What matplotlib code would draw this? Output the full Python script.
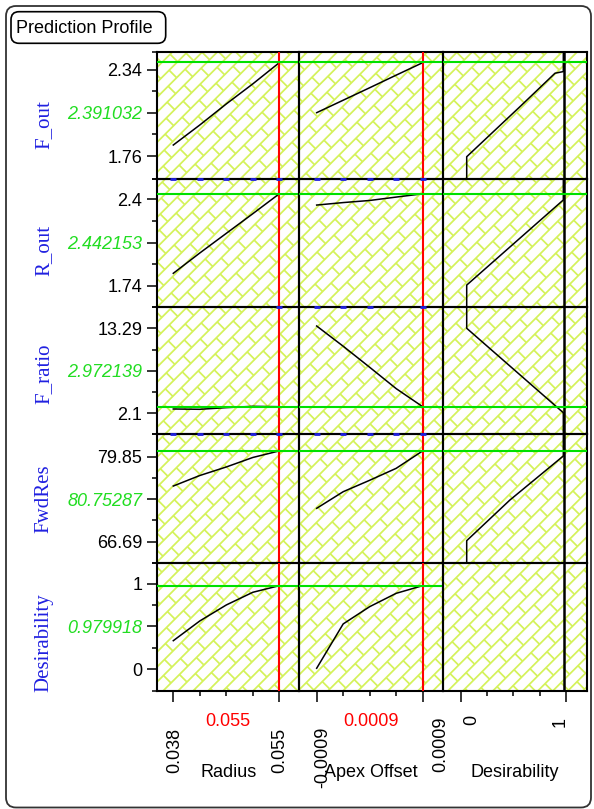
import matplotlib
matplotlib.use('Agg')
import matplotlib.pyplot as plt
import matplotlib.transforms as mtransforms
import numpy as np
from matplotlib.collections import LineCollection
from matplotlib.patches import FancyBboxPatch

# factor settings (x axes) and responses (rows)
factors = ['Radius', 'Apex Offset', 'Desirability']
factor_ticks = [[0.038, 0.04225, 0.0465, 0.05075, 0.055],
                [-0.0009, -0.00045, 0.0, 0.00045, 0.0009],
                [0.0, 0.25, 0.5, 0.75, 1.0]]
factor_now = [0.055, 0.0009, 0.979918]
factor_now_txt = ['0.055', '0.0009', '']

responses = ['F_out', 'R_out', 'F_ratio', 'FwdRes', 'Desirability']
resp_now = [2.391032, 2.442153, 2.972139, 80.75287, 0.979918]
resp_now_txt = ['2.391032', '2.442153', '2.972139', '80.75287', '0.979918']
resp_tick_lo = [1.76, 1.74, 2.1, 66.69, 0]
resp_tick_hi = [2.34, 2.4, 13.29, 79.85, 1]
resp_tick_lo_txt = ['1.76', '1.74', '2.1', '66.69', '0']
resp_tick_hi_txt = ['2.34', '2.4', '13.29', '79.85', '1']

# prediction traces, evaluated at the factor tick points
radius_pts = [0.038, 0.04225, 0.0465, 0.05075, 0.055]
apex_pts = [-0.0009, -0.00045, 0.0, 0.00045, 0.0009]
trace_radius = [[1.834, 1.969, 2.111, 2.246, 2.389],
                [1.835, 1.99, 2.14, 2.29, 2.442],
                [2.67, 2.63, 2.85, 3.02, 2.972],
                [75.31, 76.94, 78.26, 79.73, 80.75],
                [0.333, 0.565, 0.753, 0.902, 0.98]]
trace_apex = [[2.052, 2.136, 2.22, 2.305, 2.389],
              [2.356, 2.375, 2.391, 2.417, 2.442],
              [13.59, 10.93, 8.16, 5.35, 2.972],
              [71.86, 74.43, 76.20, 78.05, 80.75],
              [0.009, 0.53, 0.733, 0.89, 0.98]]

# desirability functions (x = desirability, y = response)
desir_d = [[0.057, 0.057, 0.563, 0.896, 0.975, 0.975],
           [0.975, 0.975, 0.057, 0.057],
           [0.057, 0.057, 0.975, 0.975],
           [0.975, 0.975, 0.468, 0.057, 0.057]]
desir_y = [[1.5, 1.755, 2.0925, 2.318, 2.329, 2.6],
           [2.6, 2.395, 1.745, 1.5],
           [17.0, 13.29, 2.18, -1.0],
           [85.0, 79.96, 73.15, 66.85, 60.0]]

# axis ranges
xlims = [(0.035386, 0.05821), (-0.001195, 0.00124), (-0.171, 1.197)]
ylims = [(1.605, 2.463), (1.58, 2.555), (-0.66, 16.13), (63.44, 83.32), (-0.255, 1.25)]

W, H = 594, 809
col_edges = [157, 299.3, 442.7, 586.7]
row_edges = [51.7, 179, 306.7, 434.3, 562.7, 690.7]
ylab_y = [124.5, 250.8, 374, 498.3, 643]

GREEN_LINE = '#00e000'
GREEN_TXT = '#22dd22'
HATCH = '#d4f25a'
BLUE = '#2020e0'
SANS = 'Liberation Sans'
SERIF = 'Liberation Serif'
fs = 13

fig = plt.figure(figsize=(W / 100, H / 100), dpi=100)


def px_rect(x0, y0, x1, y1):
    return [x0 / W, 1 - y1 / H, (x1 - x0) / W, (y1 - y0) / H]


# brick hatch behind the grid
bg = fig.add_axes(px_rect(col_edges[0], row_edges[0], col_edges[-1], row_edges[-1]), zorder=0)
bg.set_xlim(col_edges[0], col_edges[-1])
bg.set_ylim(H - row_edges[-1], H - row_edges[0])
bg.axis('off')
s, L = 10.6, 24.0
r2 = np.sqrt(2)
pmin, pmax = 150, 1000
segs = []
for k in range(-40, 45):
    q0, q1 = k * s, (k + 1) * s
    segs.append([((pmin - q0) / r2, (pmin + q0) / r2), ((pmax - q0) / r2, (pmax + q0) / r2)])
    off = (k % 2) * L / 2
    for p in np.arange(pmin + off, pmax, L):
        segs.append([((p - q0) / r2, (p + q0) / r2), ((p - q1) / r2, (p + q1) / r2)])
bg.add_collection(LineCollection(segs, colors=HATCH, linewidths=1.25))

axes = {}
for r in range(5):
    for c in range(3):
        ax = fig.add_axes(px_rect(col_edges[c], row_edges[r], col_edges[c + 1], row_edges[r + 1]), zorder=2)
        ax.set_facecolor('none')
        ax.set_xlim(*xlims[c])
        ax.set_ylim(*ylims[r])
        for sp in ax.spines.values():
            sp.set_linewidth(1.5)
            sp.set_color('k')
        ax.tick_params(which='both', left=False, bottom=False, labelleft=False, labelbottom=False)
        axes[r, c] = ax

        if c == 0:
            ax.plot(radius_pts, trace_radius[r], color='k', lw=1.1, zorder=3)
        elif c == 1:
            ax.plot(apex_pts, trace_apex[r], color='k', lw=1.1, zorder=3)
        elif r < 4:
            ax.plot(desir_d[r], desir_y[r], color='k', lw=1.1, zorder=3)

        if c < 2:
            ax.axvline(factor_now[c], color='red', lw=1.5, zorder=4)
        else:
            ax.axvline(factor_now[c], color='k', lw=1.8, zorder=4)
        if not (r == 4 and c == 2):
            ax.axhline(resp_now[r], color=GREEN_LINE, lw=1.5, zorder=4)

        if c == 0:
            lo, hi = resp_tick_lo[r], resp_tick_hi[r]
            mid = (lo + hi) / 2
            ax.tick_params(axis='y', which='both', left=True, labelleft=True,
                           width=1.1, labelsize=fs, pad=3)
            ax.tick_params(axis='y', which='major', length=7.5)
            ax.tick_params(axis='y', which='minor', length=3.6)
            ax.set_yticks([lo, mid, hi])
            ax.set_yticklabels([resp_tick_lo_txt[r], resp_now_txt[r], resp_tick_hi_txt[r]], family=SANS)
            ax.set_yticks([ylims[r][0], (lo + mid) / 2, (mid + hi) / 2, ylims[r][1]], minor=True)
            lab = ax.get_yticklabels()[1]
            lab.set_color(GREEN_TXT)
            lab.set_style('italic')

        if r == 4:
            ft = factor_ticks[c]
            ax.tick_params(axis='x', which='both', bottom=True, width=1.1)
            ax.tick_params(axis='x', which='major', length=8)
            ax.tick_params(axis='x', which='minor', length=3.6)
            ax.set_xticks([ft[0], ft[-1]])
            ax.set_xticks(ft[1:-1], minor=True)

# blue tick marks along some row boundaries
blue_marks = {(1, 0): factor_ticks[0], (1, 1): factor_ticks[1],
              (2, 0): [0.055], (2, 1): [-0.0009, -0.00045, 0.0, 0.0009],
              (3, 0): factor_ticks[0], (3, 1): factor_ticks[1]}
for (r, c), xs in blue_marks.items():
    ax = axes[r, c]
    ax.plot(xs, [ylims[r][1]] * len(xs), ls='none', marker='_', ms=5, mew=2,
            color=BLUE, clip_on=False, zorder=6)

# overlay in pixel coordinates for frame and texts
ov = fig.add_axes([0, 0, 1, 1], zorder=5)
ov.set_xlim(0, W)
ov.set_ylim(H, 0)
ov.axis('off')
ov.patch.set_alpha(0)

ov.add_patch(FancyBboxPatch((6, 6), 585, 801.5, boxstyle='round,pad=0,rounding_size=10',
                            fc='none', ec='#333333', lw=1.3))
ov.add_patch(FancyBboxPatch((11, 11.7), 154.7, 31.6, boxstyle='round,pad=0,rounding_size=8',
                            fc='none', ec='k', lw=1.2))
ov.text(16.5, 28, 'Prediction Profile', fontsize=fs, family=SANS, va='center', ha='left')

for r in range(5):
    ov.text(44, ylab_y[r], responses[r], rotation=90, ha='center', va='center',
            fontsize=15, family=SERIF, color=BLUE)

for c in range(3):
    cx = (col_edges[c] + col_edges[c + 1]) / 2
    if factor_now_txt[c]:
        ov.text(cx, 721.7, factor_now_txt[c], color='red', fontsize=fs, family=SANS,
                ha='center', va='center')
    ov.text(cx, 772.7, factors[c], fontsize=fs, family=SANS, ha='center', va='center')

# rotated end-tick labels under the bottom row
tick_txt = [(0, 0.038, '0.038', 1.7, 728.3), (0, 0.055, '0.055', 0.7, 727.7),
            (1, -0.0009, '-0.0009', 6.0, 726.7), (1, 0.0009, '0.0009', 18.0, 716.7),
            (2, 0.0, '0', 11.0, 715.0), (2, 1.0, '1', -6.0, 716.7)]
for c, xv, txt, dx, ytop in tick_txt:
    tr = mtransforms.blended_transform_factory(axes[4, c].transData, ov.transData)
    tr = mtransforms.offset_copy(tr, fig=fig, x=dx * 72 / 100, units='points')
    ov.text(xv, ytop, txt, transform=tr, rotation=90, ha='center', va='top',
            fontsize=fs, family=SANS)

fig.savefig('out.png', dpi=100)
